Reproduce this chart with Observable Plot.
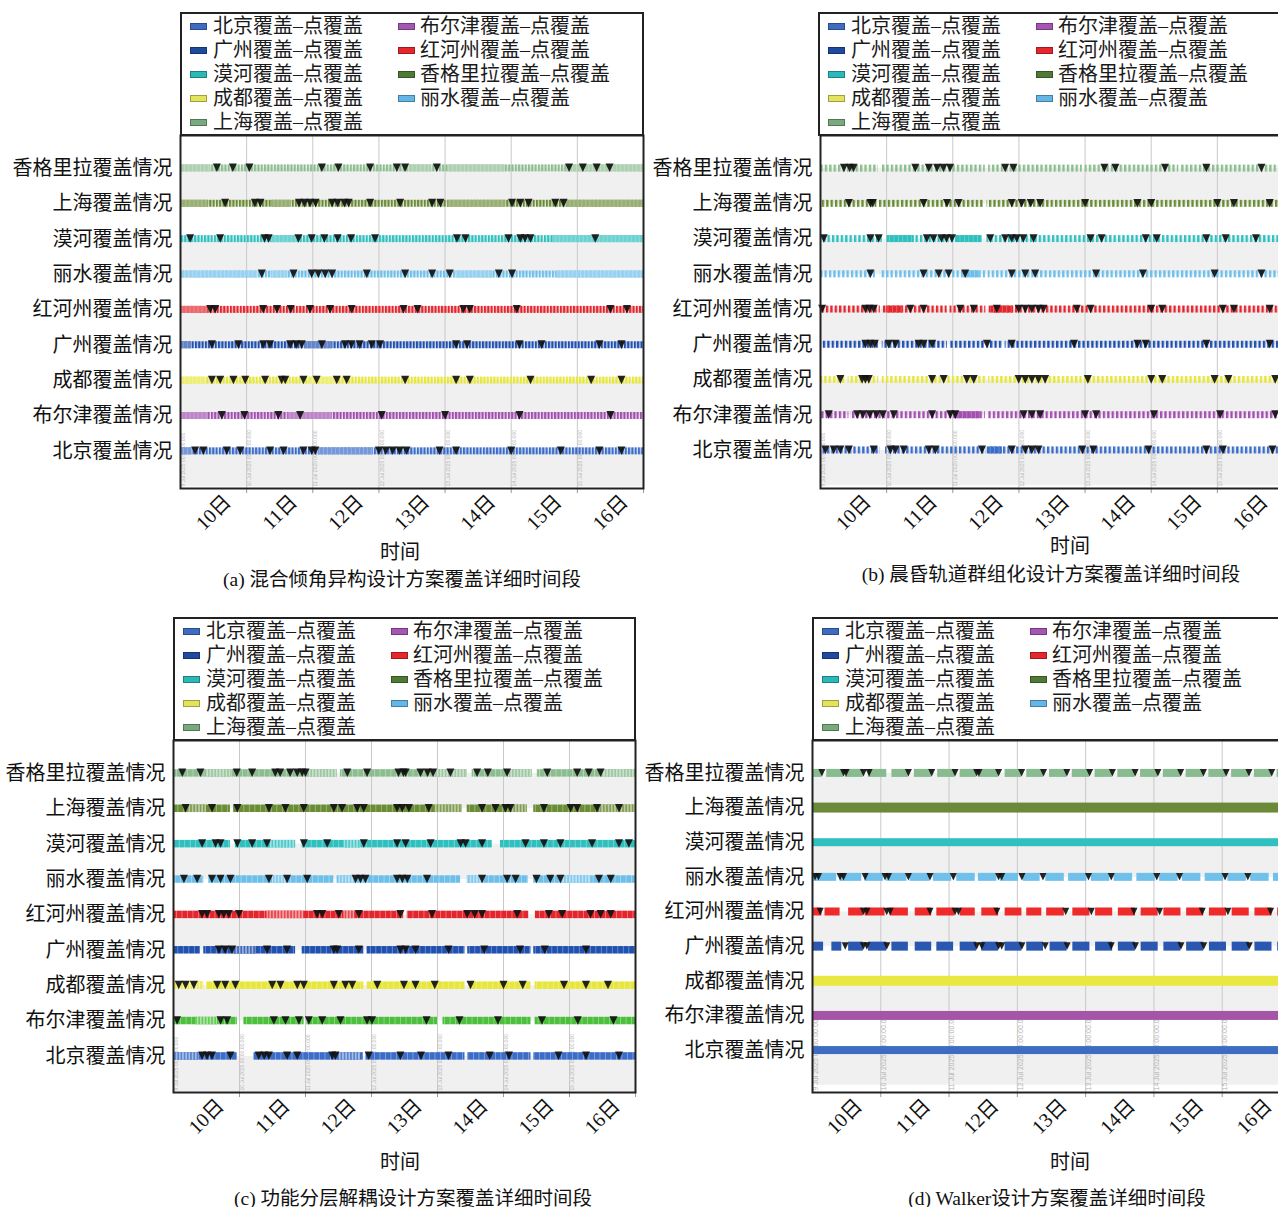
<!DOCTYPE html>
<html><head><meta charset="utf-8">
<script src="https://cdn.jsdelivr.net/npm/d3@7"></script>
<script src="https://cdn.jsdelivr.net/npm/@observablehq/plot@0.6"></script>
<style>
html,body{margin:0;padding:0;background:#fff;overflow:hidden;}
#root{position:relative;width:1278px;height:1207px;overflow:hidden;font-family:"Liberation Serif","Noto Sans CJK SC",serif;color:#111;}
.legend{position:absolute;border:2px solid #222;background:#fff;box-sizing:border-box;height:124px;}
.li{position:absolute;font-size:20px;line-height:24px;height:24px;white-space:nowrap;color:#1a1a1a;}
.sw{position:absolute;width:15px;height:5px;border:1px solid rgba(0,0,0,0.3);}
.ctr{position:absolute;white-space:nowrap;transform:translate(-50%,-50%);}
.pl{position:absolute;}
</style></head><body><div id="root"></div>
<script>
// ---------------- data ----------------
const rowNames = ["香格里拉","上海","漠河","丽水","红河州","广州","成都","布尔津","北京"];
const rowLabel = "覆盖情况";
const tickDays = [10,11,12,13,14,15,16];
const tickLabels = ["10日","11日","12日","13日","14日","15日","16日"];
const gridDays = [9,10,11,12,13,14,15];
const gridStamps = ["9 Jul 2025 00:00:00.000","10 Jul 2025 00:00:00.000","11 Jul 2025 00:00:00.000","12 Jul 2025 00:00:00.000","13 Jul 2025 00:00:00.000","14 Jul 2025 00:00:00.000","15 Jul 2025 00:00:00.000"];
const legendNames = ["北京覆盖–点覆盖","广州覆盖–点覆盖","漠河覆盖–点覆盖","成都覆盖–点覆盖","上海覆盖–点覆盖","布尔津覆盖–点覆盖","红河州覆盖–点覆盖","香格里拉覆盖–点覆盖","丽水覆盖–点覆盖"];
const legendColors = ["#3f6cc2","#1f4b9f","#2bb8b8","#e4e45c","#79aa7d","#a456b2","#e5262c","#4f7a36","#64b6e6"];
const rowColors = ["#8cbd8f","#6a8c35","#2ebfbf","#6dbfea","#e3262d","#2050b0","#e6e63c","#a24fb0","#3a6cc8"];
const rowColorsC = ["#8cbd8f","#6a8c35","#2ebfbf","#6dbfea","#e3262d","#2050b0","#e6e63c","#4cc03c","#3a6cc8"];
const rowColorsD = ["#88bb90","#6a8a3a","#30c0c0","#70c0ec","#ee2a2a","#2a58b0","#e8e840","#a455a8","#3d6cc0"];
const axisTitle = "时间";
const captions = ["(a) 混合倾角异构设计方案覆盖详细时间段","(b) 晨昏轨道群组化设计方案覆盖详细时间段","(c) 功能分层解耦设计方案覆盖详细时间段","(d) Walker设计方案覆盖详细时间段"];

// bars: [row, startHour, endHour, kind]  (hours from 9 Jul 00:00)
const aBars = [
 [0,0,168,"s"],[0,0,11,"f"],[0,83,91,"f"],[0,97,118,"f"],[0,140,168,"f"],
 [1,0,168,"s"],[1,0,10,"f"],[1,33,40,"f"],[1,97,118,"f"],[1,140,168,"f"],
 [2,0,168,"s"],[2,33,42,"f"],[2,135,168,"f"],
 [3,0,168,"s"],[3,0,28,"f"],[3,33,39,"f"],[3,100,113.6,"f"],[3,136.6,168,"f"],
 [4,0,168,"s"],[4,0,10,"f"],
 [5,0,168,"s"],[5,0,4,"f"],[5,45,55,"f"],
 [6,0,168,"s"],[6,0,9,"f"],[6,47,56,"f"],
 [7,0,168,"s"],[7,0,10,"f"],[7,39,55,"f"],
 [8,0,168,"s"],[8,0,4,"f"],[8,50,70,"f"]
];
const aMarks = [
 [13.2,19,25,51.3,57.3,68.8,78.5,81.5,93,141,146,151,155.7],
 [16.2,27,29,43,45,47,49,55,57,59.5,61,68.8,79.7,91.3,94.3,120.3,123.3,126.3,136,139],
 [3.5,14.4,30.5,32,42.8,47.6,52.2,57,61.9,70.6,100.3,103.4,119,123.3,125,127,150.5],
 [29.5,41,47.6,50,52.5,55,67.6,81.5,91.3,97.7,115.5,120.3],
 [10.8,12.6,30,35,40,47,54.3,62.1,80.9,86,102.6,105,122,156,162],
 [11.4,21,30,32.5,39.8,42,44,51.3,59.7,62,65,69.4,72.4,100,104,123,131,152,160],
 [11.4,14.4,19.2,23.5,30.7,36.7,38,44.6,49.4,56.7,60.3,81.5,100,105,127,149,160],
 [15,23.2,35.5,43.4,73,96,123,156],
 [5.3,8.3,16.8,21.7,32.5,37.4,44.6,47.6,48.9,72,74.5,77,79.5,82,94,100,120,138,152,160]
];

const bBars = [
 [0,0,21,"s"],[0,22.4,59.8,"s"],[0,61,95,"s"],[0,96,130,"s"],[0,131,168,"s"],
 [1,0,20.5,"s"],[1,21.2,59.2,"s"],[1,60.4,168,"s"],
 [2,0,22.4,"s"],[2,24.2,58.6,"s"],[2,60.4,168,"s"],[2,24.2,34,"d"],[2,49.5,58.6,"d"],
 [3,0,20,"s"],[3,21.7,60,"s"],[3,60.8,168,"s"],[3,52,58,"d"],
 [4,0,21.7,"s"],[4,22.4,46,"s"],[4,47,60,"s"],[4,61,168,"s"],[4,24,30,"d"],[4,62,70,"d"],
 [5,0,21.1,"s"],[5,22.4,46,"s"],[5,47,59.5,"s"],[5,60.5,66,"s"],[5,67,168,"s"],
 [6,0,9,"s"],[6,10,21.1,"s"],[6,22.4,60.4,"s"],[6,61,168,"s"],
 [7,0,10.3,"s"],[7,10.9,59.8,"s"],[7,61,168,"s"],[7,49,58,"d"],
 [8,0,21.7,"s"],[8,23.6,60,"s"],[8,61,168,"s"],[8,60.5,66,"d"]
];
const bMarks = [
 [8.5,10.6,12,34.4,39.3,42.3,44.6,47,67,70,103,107,125,140,160],
 [10.3,18.1,19,37.4,45.9,50.1,69.4,73,76.3,79.7,96,115,120,144,150,163],
 [1.2,18.1,21.1,38.6,41,43.9,45.7,47.7,61.6,67,69.4,71.2,73.6,77.3,98,102,118,122,140,147,158],
 [18.1,37.4,42.9,46.5,52.5,69.4,74.3,77.9,100,117,143,160],
 [0.6,16.3,17.8,19.3,32.6,37.4,50.7,55.6,64,71.9,74.3,76.7,79.1,80.9,93,98,120,124,146,150,163],
 [16.3,18.1,19.7,24.7,27.2,35.6,37.4,40.5,60.4,69.4,92,115,118,140,163],
 [7.2,15.1,16.3,17.5,40.5,44.7,53.1,55.6,71.9,74.3,76.7,79.1,81.5,97,120,124,143,148,165],
 [3,13.3,15.4,17.9,20.3,22.6,26.6,40.5,47.1,48.9,73.7,76.7,79.7,96,100,121,145,165],
 [1.8,4.8,7.2,10.3,19.3,25.4,27.2,30.2,39.3,41.7,58.6,69.4,74.3,76.7,79.1,95,99,119,140,146,164]
];

const cBars = [
 [0,0,59.5,"c"],[0,60.7,106.8,"c"],[0,108.6,130.4,"c"],[0,132.3,168,"c"],
 [0,12,21,"l"],[0,49,59.5,"l"],[0,95,106.8,"l"],[0,121.5,130.4,"l"],[0,156,168,"l"],
 [1,0,20.7,"c"],[1,21.8,105,"c"],[1,106.8,128.6,"c"],[1,131,168,"c"],
 [1,5,12,"l"],[1,95,105,"l"],[1,123,128.6,"l"],[1,155,168,"l"],
 [2,0,20.7,"c"],[2,22.5,44.4,"c"],[2,46.8,115.9,"c"],[2,118.9,168,"c"],
 [2,35,44.4,"l"],[2,62,68,"l"],
 [3,0,11,"c"],[3,12.8,58.3,"c"],[3,59.5,104.4,"c"],[3,106.8,129,"c"],[3,131,168,"c"],
 [3,36,41,"l"],[3,60,66,"l"],[3,107,112,"l"],[3,140,152,"l"],
 [4,0,83.7,"c"],[4,85,129.2,"c"],[4,131.6,168,"c"],
 [4,34,47.4,"l"],[4,62,66,"l"],
 [5,0,9.8,"c"],[5,11,44.4,"c"],[5,46.8,69.2,"c"],[5,70.4,106,"c"],[5,107,130,"c"],[5,131,168,"c"],
 [5,22,30,"l"],
 [6,0,11,"c"],[6,12,69.2,"c"],[6,70.4,106,"c"],[6,107.5,130,"c"],[6,131.5,168,"c"],
 [6,0,11,"l"],
 [7,0,23.2,"c"],[7,25.6,47.5,"c"],[7,48.5,96,"c"],[7,98,130,"c"],[7,131.5,168,"c"],
 [7,8,16,"l"],
 [8,0,23.2,"c"],[8,29.2,69,"c"],[8,70,106,"c"],[8,107,130,"c"],[8,131,168,"c"],
 [8,0,9,"l"],[8,60,68,"l"]
];
const cMarks = [
 [3.2,9.8,23,28.6,37,38.8,42.4,45,46.8,48,63.2,70.4,81.8,83.6,84.4,89.8,92.4,94.4,100.7,110.4,114.3,121.3,135.9,146.8,151,155.3],
 [4.4,14,23.2,34.7,40.7,47.4,58.3,61.3,66.8,69.2,81.3,83.2,85.6,92.8,112.2,117.1,120.7,122.5,134.7,144.4,146.8,154,162],
 [10.4,15.3,17.1,23.2,28.6,34,47.4,55.9,69.2,81.3,84.4,93.5,104.4,106.2,112.2,128,134.7,140.7,152.2,162,165.6],
 [3.8,8.6,14,17.1,20.7,34.7,41.3,48.6,66.2,68,69.8,81.3,83.2,85,92.2,112.2,121.3,124.4,132,137,140.7,154.7,159],
 [10.4,12.2,16.5,18.3,20.1,23.8,52.2,54.1,60.1,67.4,82.5,94,106.8,109.5,112.2,125,136.5,141.3,151.6,155.3,159],
 [16.5,18.8,21.3,34,41.3,58.3,59.5,67.4,82.5,84.4,88,100,113,126,135,150],
 [1.9,4.4,7.4,15.9,18.8,22.5,35.9,38.9,45,47.4,58.3,62.5,65,74.1,83.8,88,95,108,120,127,142,150,158],
 [1.3,17.1,19.5,36.5,40.7,45.6,49.2,54.1,60.7,70.4,72.2,92,104,118,134,147,160],
 [10.4,12.2,14,20.7,31,33,34.7,41.3,45,57.7,58.9,71,82.5,90,100,115,122,140,150,162]
];

const dBars = [
 [0,0.4,3.3,"d"],[0,5,10.9,"d"],[0,11.5,17.9,"d"],[0,19.7,26.1,"d"],[0,27.9,33.7,"d"],[0,35.8,41.9,"d"],[0,44,50.1,"d"],[0,51.9,57.7,"d"],[0,58.3,65.4,"d"],[0,67.7,73.5,"d"],[0,75.3,81.2,"d"],[0,83.3,89.4,"d"],[0,91.3,97.4,"d"],[0,99.3,105.4,"d"],[0,107.3,113.4,"d"],[0,115.3,121.4,"d"],[0,123.3,129.4,"d"],[0,131.3,137.4,"d"],[0,139.3,145.4,"d"],[0,147.3,153.4,"d"],[0,155.3,161.4,"d"],[0,163.3,168,"d"],
 [1,0,168,"d"],
 [2,0,168,"d"],
 [3,0.35,8.5,"d"],[3,9.7,17.3,"d"],[3,18.5,24.9,"d"],[3,26.1,33.2,"d"],[3,34.3,41.3,"d"],[3,42.5,48.9,"d"],[3,50.7,57.2,"d"],[3,58.3,64.8,"d"],[3,66,72.4,"d"],[3,74.1,80,"d"],[3,82,88.5,"d"],[3,90,96.5,"d"],[3,98,104.5,"d"],[3,106,112.5,"d"],[3,114,120.5,"d"],[3,122,128.5,"d"],[3,130,136.5,"d"],[3,138,144.5,"d"],[3,146,152.5,"d"],[3,154,160.5,"d"],[3,162,168,"d"],
 [4,0.35,3.3,"d"],[4,4.4,9.7,"d"],[4,12.7,17.9,"d"],[4,18.5,25.5,"d"],[4,27.3,33.7,"d"],[4,36.1,41.9,"d"],[4,43.7,50.1,"d"],[4,51.9,57.2,"d"],[4,59.5,65.4,"d"],[4,67.7,73.6,"d"],[4,75.3,80.6,"d"],[4,82.3,88.5,"d"],[4,91.5,97.5,"d"],[4,99.5,105.5,"d"],[4,107.5,113.5,"d"],[4,115.5,121.5,"d"],[4,123.5,129.5,"d"],[4,131.5,137.5,"d"],[4,139.5,145.5,"d"],[4,147.5,153.5,"d"],[4,155.5,161.5,"d"],[4,163.5,168,"d"],
 [5,0.35,3.9,"d"],[5,6.8,10.3,"d"],[5,12.7,17.9,"d"],[5,19.7,26.1,"d"],[5,27.9,33.7,"d"],[5,36.1,41.9,"d"],[5,43.7,49.6,"d"],[5,51.9,57.7,"d"],[5,59.5,65.4,"d"],[5,67.7,73.6,"d"],[5,75.3,81.2,"d"],[5,83.5,89.5,"d"],[5,91.5,97.5,"d"],[5,99.5,105.5,"d"],[5,107.5,113.5,"d"],[5,115.5,121.5,"d"],[5,123.5,129.5,"d"],[5,131.5,137.5,"d"],[5,139.5,145.5,"d"],[5,147.5,153.5,"d"],[5,155.5,161.5,"d"],[5,163.5,168,"d"],
 [6,0,168,"d"],
 [7,0,168,"d"],
 [8,0,168,"d"]
];
const dMarks = [
 [3.3,10.9,11.8,17.9,19.9,33.7,41.9,50.1,57.7,58.5,65.4,73.5,81.2,89.4,97.4,105.4,113.4,121.4,129.4,137.4,145.4,153.4,161.4],
 [],[],
 [0.9,2.1,9.7,10.9,18.5,25.5,26.7,33.7,41.3,49.5,65.4,66.5,73.6,81,97,105,121,129,145,153],
 [2.7,17.9,19.1,26.1,27.3,41.3,50.1,51.3,64.8,89,98,113,122,137,146,161],
 [11.5,17.9,19.1,26.1,57.7,59.5,65.4,66.5,73.6,81.8,89.5,105,113.5,129.5,137.5,153.5],
 [],[],[]
];

// ---------------- rendering ----------------
const root = document.getElementById("root");
const H = h => 9 + h / 24;
const rowIdx = rowNames.map((_, i) => i);
const bandStarts = [0, 2, 4, 6, 8];
const ns = "http://www.w3.org/2000/svg";
const mix = (c, t) => d3.interpolateRgb(c, "#ffffff")(t);
const downTri = {draw(ctx, size) {
  const r = Math.sqrt(size / Math.PI);
  ctx.moveTo(-r, -r * 1.1); ctx.lineTo(r, -r * 1.1); ctx.lineTo(0, r * 1.05); ctx.closePath();
}};

const patternSpecs = {
  as: c => ({w: 3.3, parts: [{x: 0, w: 3.3, fill: c, op: 0.16}, {x: 0, w: 2.1, fill: c, op: 1}]}),
  af: c => ({w: 4, parts: [{x: 0, w: 4, fill: mix(c, 0.3), op: 1}, {x: 0, w: 0.6, fill: "#fff", op: 0.35}]}),
  bs: c => ({w: 4.4, parts: [{x: 0, w: 4.4, fill: c, op: 0.08}, {x: 0, w: 2.3, fill: c, op: 1}]}),
  bd: c => ({w: 4.4, parts: [{x: 0, w: 4.4, fill: c, op: 1}, {x: 0, w: 0.6, fill: "#fff", op: 0.4}]}),
  cc: c => ({w: 5.5, parts: [{x: 0, w: 5.5, fill: c, op: 1}, {x: 0, w: 0.7, fill: "#fff", op: 0.45}]}),
  cl: c => ({w: 3.2, parts: [{x: 0, w: 3.2, fill: mix(c, 0.55), op: 1}, {x: 0, w: 1.6, fill: mix(c, 0.15), op: 1}]}),
  dd: c => ({w: 10, parts: [{x: 0, w: 10, fill: c, op: 1}]})
};

function drawPanel(p) {
  const rowPx = (p.fb - p.ft) / (p.yDom[1] - p.yDom[0]);
  const bars = p.bars.map(([r, a, b, k]) => ({r, k, x1: H(a), x2: H(b), y1: r - p.barPx[r] / 2 / rowPx, y2: r + p.barPx[r] / 2 / rowPx}));
  const tri = p.marks.flatMap((hs, r) => hs.map(h => ({r, x: H(h)})));
  const layers = [];
  const pats = [];
  layers.push(Plot.rect(bandStarts, {x1: () => 9, x2: () => 16, y1: d => d, y2: d => d + 1, fill: "#f0f0f0", clip: true}));
  layers.push(Plot.ruleX(gridDays.slice(1), {stroke: "#c9c9c9", strokeWidth: 1}));
  layers.push(Plot.text(gridDays, {x: d => d, y: () => p.yDom[1], text: (d, i) => gridStamps[i], rotate: -90, textAnchor: "start", fontSize: p.stampSize, fill: "#b4b4b4", dx: p.stampDx, dy: -2, fontFamily: "Liberation Sans"}));
  for (const k of p.kinds) for (let r = 0; r < 9; r++) {
    const sub = bars.filter(d => d.k === k && d.r === r);
    if (!sub.length) continue;
    const id = `${p.id}-${k}-${r}`;
    pats.push({id, k, r});
    layers.push(Plot.rect(sub, {x1: "x1", x2: "x2", y1: "y1", y2: "y2", fill: `url(#${id})`}));
  }
  layers.push(Plot.dot(tri, {x: "x", y: "r", symbol: downTri, r: p.triR, fill: "#111", fillOpacity: 0.92, stroke: "none", dy: p.triDy}));
  layers.push(Plot.axisY({ticks: rowIdx, tickFormat: i => rowNames[i] + rowLabel, tickSize: 0, tickPadding: 8, fontSize: 20}));
  layers.push(Plot.axisX({ticks: tickDays, tickSize: 5, text: null, stroke: "#999"}));
  layers.push(Plot.axisX({ticks: tickDays, tickFormat: d => tickLabels[tickDays.indexOf(d)], tickRotate: -45, fontSize: 20, tickSize: 0, tickPadding: 8, dx: p.tickDx, dy: 2}));
  layers.push(Plot.frame({stroke: "#222", strokeWidth: 2}));
  const svg = Plot.plot({
    width: p.w, height: p.h, marginLeft: p.ml, marginRight: p.mr, marginTop: p.mt, marginBottom: p.mb,
    x: {domain: [9, 16]}, y: {domain: p.yDom, reverse: true},
    style: {fontFamily: '"Liberation Serif","Noto Sans CJK SC",serif', color: "#111", background: "transparent", maxWidth: "none", overflow: "visible"},
    marks: layers
  });
  const defs = document.createElementNS(ns, "defs");
  for (const {id, k, r} of pats) {
    const spec = patternSpecs[p.id + k](p.colors[r]);
    const pat = document.createElementNS(ns, "pattern");
    pat.setAttribute("id", id);
    pat.setAttribute("patternUnits", "userSpaceOnUse");
    pat.setAttribute("width", spec.w);
    pat.setAttribute("height", 40);
    pat.setAttribute("patternTransform", `translate(${(r * 1.37) % spec.w},0)`);
    for (const part of spec.parts) {
      const rc = document.createElementNS(ns, "rect");
      rc.setAttribute("x", part.x); rc.setAttribute("y", 0);
      rc.setAttribute("width", part.w); rc.setAttribute("height", 40);
      rc.setAttribute("fill", part.fill); rc.setAttribute("fill-opacity", part.op);
      pat.appendChild(rc);
    }
    defs.appendChild(pat);
  }
  svg.insertBefore(defs, svg.firstChild);
  const wrap = document.createElement("div");
  wrap.className = "pl";
  wrap.style.left = p.left + "px"; wrap.style.top = p.top + "px";
  wrap.appendChild(svg);
  root.appendChild(wrap);
}

function drawLegend(left, top, width) {
  const box = document.createElement("div");
  box.className = "legend";
  box.style.left = left + "px"; box.style.top = top + "px"; box.style.width = width + "px";
  legendNames.forEach((name, i) => {
    const col = i < 5 ? 0 : 1, row = i < 5 ? i : i - 5;
    const sw = document.createElement("div");
    sw.className = "sw";
    sw.style.left = (col ? 216 : 8) + "px";
    sw.style.top = (12 + row * 24 - 3.5) + "px";
    sw.style.background = legendColors[i];
    box.appendChild(sw);
    const t = document.createElement("div");
    t.className = "li";
    t.style.left = (col ? 238 : 31) + "px";
    t.style.top = (row * 24) + "px";
    t.textContent = name;
    box.appendChild(t);
  });
  root.appendChild(box);
}

function drawText(txt, x, y, size) {
  const d = document.createElement("div");
  d.className = "ctr";
  d.style.left = x + "px"; d.style.top = y + "px"; d.style.fontSize = size + "px";
  d.textContent = txt;
  root.appendChild(d);
}

const common = {h: 415, mt: 10, mb: 52, stampSize: 5, stampDx: 3, triR: 4, triDy: -0.5, tickDx: -19};
drawPanel({...common, id: "a", left: 0, top: 125, w: 660, ml: 180, mr: 17, ft: 135, fb: 488, yDom: [-0.93, 9.05],
  bars: aBars, marks: aMarks, colors: rowColors, kinds: ["s", "f"], barPx: [7,7,7,7,7,7,7,7,7]});
drawPanel({...common, id: "b", left: 640, top: 125, w: 660, ml: 180, mr: 17, ft: 135, fb: 488, yDom: [-0.94, 9.08],
  bars: bBars, marks: bMarks, colors: rowColors, kinds: ["s", "d"], barPx: [7,7,7,7,7,7,7,7,7]});
drawPanel({...common, h: 414, id: "c", left: 0, top: 730, w: 650, ml: 173, mr: 15, ft: 740, fb: 1092, yDom: [-0.93, 9.02],
  bars: cBars, marks: cMarks, colors: rowColorsC, kinds: ["c", "l"], barPx: [7.5,7.5,7.5,7.5,7.5,7.5,7.5,7.5,7.5]});
drawPanel({...common, h: 414, id: "d", left: 640, top: 730, w: 660, ml: 172, mr: 10, ft: 740, fb: 1092, yDom: [-0.95, 9.21], stampSize: 7, triR: 3.5, tickDx: -22,
  bars: dBars, marks: dMarks, colors: rowColorsD, kinds: ["d"], barPx: [8,10,8,8,8,9,10,9,8]});

drawLegend(180, 12, 464);
drawLegend(818, 12, 480);
drawLegend(173, 617, 463);
drawLegend(812, 617, 480);

drawText(axisTitle, 400, 550, 20);
drawText(axisTitle, 1070, 544, 20);
drawText(axisTitle, 400, 1160, 20);
drawText(axisTitle, 1070, 1160, 20);
drawText(captions[0], 402, 577, 19.5);
drawText(captions[1], 1051, 572, 19.5);
drawText(captions[2], 413, 1196, 19.5);
drawText(captions[3], 1057, 1196, 19.5);
</script></body></html>
